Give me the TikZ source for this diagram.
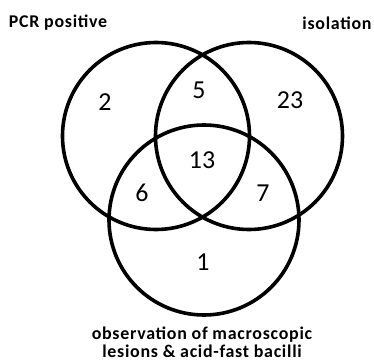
\documentclass[tikz,border=0pt]{standalone}
\usepackage{fontspec}
\setmainfont{Carlito}
\usetikzlibrary{positioning}
\tikzset{
  vennset/.style={draw=black, line width=3.6bp, circle, minimum size=187bp, inner sep=0pt},
  setlabel/.style={font=\fontsize{18}{18}\selectfont\bfseries\addfontfeature{LetterSpace=4},
    align=center, inner sep=0pt},
  countlabel/.style={font=\fontsize{26}{28}\selectfont, inner sep=0pt}
}
\begin{document}
\begin{tikzpicture}[x=1bp,y=1bp]
    \useasboundingbox (0,0) rectangle (374,362);

    % the three sets
    \node[vennset] (pcr) at (156,226) {};
    \node[vennset] (iso) at (249,226) {};
    \node[vennset, minimum size=190bp] (obs) at (204,142) {};

    % set names
    \node[setlabel] (pcrname) at (58,339) {PCR positive};
    \node[setlabel] (isoname) at (337,339) {isolation};
    \node[setlabel] (obsname) at (202,20)
        {observation of macroscopic\\lesions \& acid-fast bacilli};

    % counts
    \node[countlabel] (onlypcr) at (105,260) {2};
    \node[countlabel] (pcriso) at (199,272) {5};
    \node[countlabel] (onlyiso) at (290,262) {23};
    \node[countlabel] (allthree) at (202,202) {13};
    \node[countlabel] (pcrobs) at (142,169) {6};
    \node[countlabel] (isoobs) at (263,169) {7};
    \node[countlabel] (onlyobs) at (203,100) {1};
\end{tikzpicture}
\end{document}
